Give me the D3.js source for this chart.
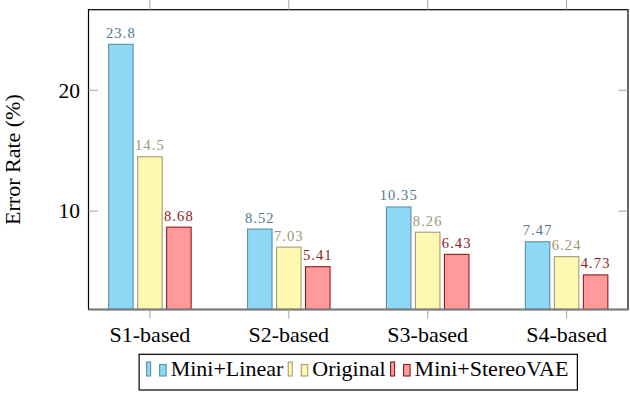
<!DOCTYPE html>
<html><head><meta charset="utf-8">
<script src="https://cdn.jsdelivr.net/npm/d3@7"></script>
<style>body{margin:0;background:#fff}svg{display:block}
svg text{font-family:"Liberation Serif","Times New Roman",Times,"Nimbus Roman","Nimbus Roman No9 L",FreeSerif,Tinos,"Noto Serif","DejaVu Serif",serif}</style>
</head><body>
<svg id="c" width="630" height="394"></svg>
<script>
const categories = ["S1-based", "S2-based", "S3-based", "S4-based"];
const seriesNames = ["Mini+Linear", "Original", "Mini+StereoVAE"];
const miniLinear = [23.8, 8.52, 10.35, 7.47];
const original = [14.5, 7.03, 8.26, 6.24];
const miniStereoVAE = [8.68, 5.41, 6.43, 4.73];
const labelsLinear = ["23.8", "8.52", "10.35", "7.47"];
const labelsOriginal = ["14.5", "7.03", "8.26", "6.24"];
const labelsStereo = ["8.68", "5.41", "6.43", "4.73"];
const yTicks = [10, 20];
const yLabel = "Error Rate (%)";

const seriesData = [miniLinear, original, miniStereoVAE];
const seriesLabels = [labelsLinear, labelsOriginal, labelsStereo];
const styles = [
  {fill: "#8dd8f5", stroke: "#5c8fa8", text: "#52778f"},
  {fill: "#fff8b0", stroke: "#a39d72", text: "#9d9575"},
  {fill: "#ff9a9a", stroke: "#8a1c1c", text: "#8a1c1c"}
];

const svg = d3.select("#c");
const L = 88.5, R = 628, T = 9.7, B = 309.5;

const y = d3.scaleLinear().domain([1.87, 26.66]).range([B, T]);
const x = d3.scalePoint().domain(categories).range([L, R]).padding(0.442);
const inner = d3.scaleBand().domain(seriesNames).range([-41.25, 41.25]).paddingInner(0.155).paddingOuter(0);

// bars
seriesNames.forEach((s, si) => {
  const g = svg.append("g");
  categories.forEach((c, ci) => {
    const v = seriesData[si][ci];
    const x0 = x(c) + inner(s);
    g.append("rect")
      .attr("x", x0).attr("y", y(v))
      .attr("width", inner.bandwidth()).attr("height", B - y(v))
      .attr("fill", styles[si].fill).attr("stroke", styles[si].stroke).attr("stroke-width", 1.1);
    g.append("text")
      .attr("x", x0 + inner.bandwidth() / 2).attr("y", y(v) - 6.5)
      .attr("text-anchor", "middle")
      .attr("font-size", 14.5)
      .attr("letter-spacing", 1.1)
      .attr("fill", styles[si].text)
      .text(seriesLabels[si][ci]);
  });
});

// frame
svg.append("rect").attr("x", L).attr("y", T).attr("width", R - L).attr("height", B - T)
  .attr("fill", "none").attr("stroke", "#000").attr("stroke-width", 1.2);
svg.append("line").attr("x1", L).attr("x2", R).attr("y1", B).attr("y2", B)
  .attr("stroke", "#7a7a7a").attr("stroke-width", 2);

// y ticks
const tickColor = "#a0a4aa";
yTicks.forEach(t => {
  svg.append("line").attr("x1", L).attr("x2", L + 9.5).attr("y1", y(t)).attr("y2", y(t)).attr("stroke", tickColor);
  svg.append("line").attr("x1", R - 9.5).attr("x2", R).attr("y1", y(t)).attr("y2", y(t)).attr("stroke", tickColor);
  svg.append("text").attr("x", 80).attr("y", y(t)).attr("dy", "0.34em")
    .attr("text-anchor", "end").attr("font-size", 21.5)
    .text(d3.format("d")(t));
});

// x ticks
categories.forEach(c => {
  svg.append("line").attr("x1", x(c)).attr("x2", x(c)).attr("y1", B + 1).attr("y2", B + 9).attr("stroke", tickColor);
  svg.append("line").attr("x1", x(c)).attr("x2", x(c)).attr("y1", 0).attr("y2", T).attr("stroke", tickColor);
  svg.append("text").attr("x", x(c)).attr("y", 341.5)
    .attr("text-anchor", "middle").attr("font-size", 22)
    .text(c);
});

// y label
svg.append("text")
  .attr("transform", `translate(19.5,${(T + B) / 2}) rotate(-90)`)
  .attr("text-anchor", "middle").attr("font-size", 22)
  .text(yLabel);

// legend
const lg = svg.append("g");
const box = lg.append("rect").attr("fill", "#fff").attr("stroke", "#000").attr("stroke-width", 1.2);
let cx = 0;
const offs = [];
const itemGs = [];
seriesNames.forEach((s, si) => {
  const it = lg.append("g");
  it.append("rect").attr("x", 0).attr("y", -14).attr("width", 4).attr("height", 14)
    .attr("fill", styles[si].fill).attr("stroke", styles[si].stroke).attr("stroke-width", 1.1);
  it.append("rect").attr("x", 13).attr("y", -11.5).attr("width", 6.5).attr("height", 11.5)
    .attr("fill", styles[si].fill).attr("stroke", styles[si].stroke).attr("stroke-width", 1.1);
  const tx = it.append("text").attr("x", 24).attr("y", 0)
    .attr("font-size", 22).text(s);
  const w = tx.node().getComputedTextLength();
  offs.push(cx);
  itemGs.push(it);
  cx += 24 + w + 5;
});
const totalW = cx - 5;
const padL = 7.5, padR = 9;
const boxW = totalW + padL + padR;
const boxX = (L + R) / 2 - boxW / 2;
box.attr("x", boxX).attr("y", 354.3).attr("width", boxW).attr("height", 35.7);
itemGs.forEach((it, i) => it.attr("transform", `translate(${boxX + padL + offs[i]},376)`));
</script>
</body></html>
